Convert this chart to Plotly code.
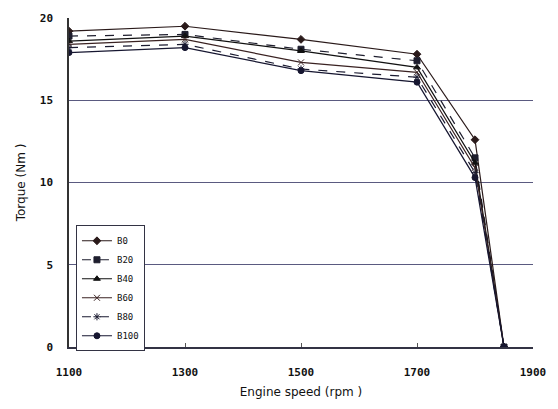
import plotly.graph_objects as go

speed = [1100, 1300, 1500, 1700, 1800, 1850]
series_names = ["B0", "B20", "B40", "B60", "B80", "B100"]
torque = {
    "B0":   [19.2, 19.5, 18.7, 17.8, 12.6, 0],
    "B20":  [18.9, 19.0, 18.1, 17.4, 11.5, 0],
    "B40":  [18.6, 18.9, 18.0, 17.0, 11.2, 0],
    "B60":  [18.4, 18.7, 17.3, 16.7, 10.9, 0],
    "B80":  [18.2, 18.4, 16.9, 16.4, 10.6, 0],
    "B100": [17.9, 18.2, 16.8, 16.1, 10.3, 0],
}
x_ticks = [1100, 1300, 1500, 1700, 1900]
y_ticks = [0, 5, 10, 15, 20]

symbols = ["diamond", "square", "triangle-up", "x-thin-open", "asterisk-open", "circle"]
dashes = ["solid", "dash", "solid", "solid", "dash", "solid"]
colors = ["#2a1a1a", "#1e1e2e", "#111111", "#3a2222", "#1a1a30", "#161630"]

font_main = "DejaVu Sans Mono"

fig = go.Figure()
for name, sym, dash, col in zip(series_names, symbols, dashes, colors):
    fig.add_trace(go.Scatter(
        x=speed, y=torque[name], name=name, mode="lines+markers",
        line=dict(color=col, width=1.2, dash=dash),
        marker=dict(symbol=sym, size=6, color=col, line=dict(color=col, width=1)),
    ))

fig.update_layout(
    width=558, height=409,
    margin=dict(l=69, r=22, t=12, b=62),
    paper_bgcolor="white", plot_bgcolor="white",
    font=dict(family=font_main, color="#111111", size=11),
    showlegend=True,
    legend=dict(
        x=0.015, y=0.37, xanchor="left", yanchor="top",
        bgcolor="white", bordercolor="#333344", borderwidth=1,
        font=dict(size=9, family=font_main),
        tracegroupgap=0, itemwidth=30,
    ),
    xaxis=dict(
        range=[1100, 1900], tickvals=x_ticks, ticktext=[str(v) for v in x_ticks],
        showgrid=False, zeroline=False,
        showline=True, linecolor="#333344", linewidth=1.5,
        ticks="inside", ticklen=4, tickcolor="#555555",
        ticklabelstandoff=14,
        tickfont=dict(size=11, family=font_main, weight="bold"),
        title=dict(text="Engine speed (rpm )", font=dict(size=12, family="DejaVu Sans"), standoff=10),
    ),
    yaxis=dict(
        range=[0, 20], tickvals=y_ticks, ticktext=[str(v) for v in y_ticks],
        showgrid=True, gridcolor="#5a5a80", gridwidth=1.1,
        zeroline=False,
        showline=True, linecolor="#333333", linewidth=1.5,
        ticks="", ticklabelstandoff=12,
        tickfont=dict(size=11, family=font_main, weight="bold"),
        title=dict(text="Torque (Nm )", font=dict(size=12, family="DejaVu Sans"), standoff=12),
    ),
)

fig.write_html("out.html")
